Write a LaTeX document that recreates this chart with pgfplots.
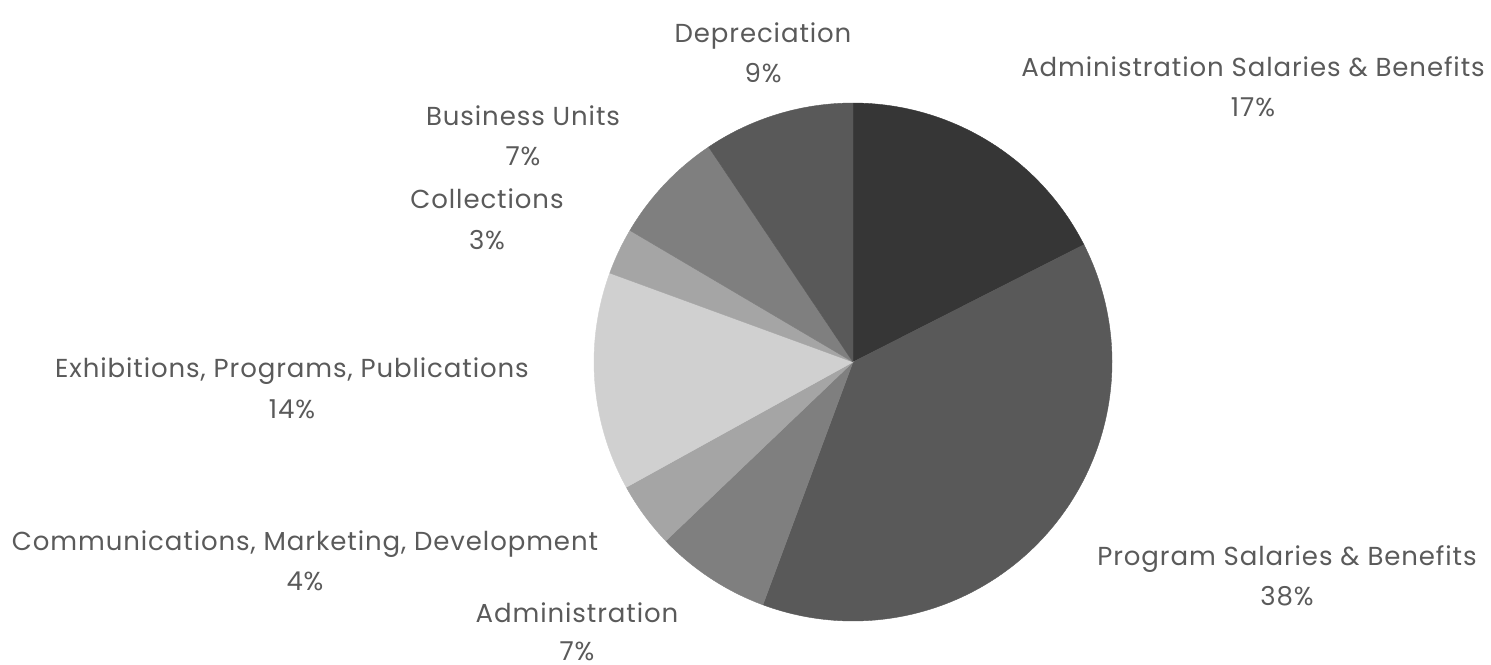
\documentclass[border=0pt]{standalone}
\usepackage{pgfplots}
\pgfplotsset{compat=1.18}
\usepackage{fontspec}
\setmainfont[LetterSpace=3.5]{Poppins}
\definecolor{c1}{RGB}{54,54,54}
\definecolor{c2}{RGB}{89,89,89}
\definecolor{c3}{RGB}{127,127,127}
\definecolor{c4}{RGB}{165,165,165}
\definecolor{c5}{RGB}{208,208,208}
\definecolor{txt}{RGB}{90,90,90}
\tikzset{lbl/.style={text=txt,font=\fontsize{13pt}{16pt}\selectfont,inner sep=0pt,anchor=base}}
% pie geometry in pixel units of the picture
\def\cx{853}\def\cy{362}\def\R{259}
% slice values (clockwise from top)
\def\vA{17.5}% Administration Salaries & Benefits
\def\vB{38.1}% Program Salaries & Benefits
\def\vC{7.2}%  Administration
\def\vD{4.1}%  Communications, Marketing, Development
\def\vE{13.6}% Exhibitions, Programs, Publications
\def\vF{2.9}%  Collections
\def\vG{7.1}%  Business Units
\def\vH{9.4}%  Depreciation
\pgfmathsetmacro\tot{\vA+\vB+\vC+\vD+\vE+\vF+\vG+\vH}
\pgfmathsetmacro\aA{90}
\pgfmathsetmacro\aB{\aA-360*\vA/\tot}
\pgfmathsetmacro\aC{\aB-360*\vB/\tot}
\pgfmathsetmacro\aD{\aC-360*\vC/\tot}
\pgfmathsetmacro\aE{\aD-360*\vD/\tot}
\pgfmathsetmacro\aF{\aE-360*\vE/\tot}
\pgfmathsetmacro\aG{\aF-360*\vF/\tot}
\pgfmathsetmacro\aH{\aG-360*\vG/\tot}
\pgfmathsetmacro\aI{\aH-360*\vH/\tot}
\begin{document}
\begin{tikzpicture}
\useasboundingbox (0,0) rectangle (745.5pt,332pt);
\begin{axis}[at={(0,0)},anchor=south west,scale only axis,
  width=745.5pt,height=332pt,xmin=0,xmax=1491,ymin=0,ymax=664,
  y dir=reverse,hide axis,clip=false]
\addplot[fill=c1,draw=c1,line width=0.2pt,domain=\aB:\aA,samples=80] ({\cx+\R*cos(x)},{\cy-\R*sin(x)}) -- (axis cs:\cx,\cy) -- cycle;
\addplot[fill=c2,draw=c2,line width=0.2pt,domain=\aC:\aB,samples=120] ({\cx+\R*cos(x)},{\cy-\R*sin(x)}) -- (axis cs:\cx,\cy) -- cycle;
\addplot[fill=c3,draw=c3,line width=0.2pt,domain=\aD:\aC,samples=40] ({\cx+\R*cos(x)},{\cy-\R*sin(x)}) -- (axis cs:\cx,\cy) -- cycle;
\addplot[fill=c4,draw=c4,line width=0.2pt,domain=\aE:\aD,samples=30] ({\cx+\R*cos(x)},{\cy-\R*sin(x)}) -- (axis cs:\cx,\cy) -- cycle;
\addplot[fill=c5,draw=c5,line width=0.2pt,domain=\aF:\aE,samples=60] ({\cx+\R*cos(x)},{\cy-\R*sin(x)}) -- (axis cs:\cx,\cy) -- cycle;
\addplot[fill=c4,draw=c4,line width=0.2pt,domain=\aG:\aF,samples=30] ({\cx+\R*cos(x)},{\cy-\R*sin(x)}) -- (axis cs:\cx,\cy) -- cycle;
\addplot[fill=c3,draw=c3,line width=0.2pt,domain=\aH:\aG,samples=40] ({\cx+\R*cos(x)},{\cy-\R*sin(x)}) -- (axis cs:\cx,\cy) -- cycle;
\addplot[fill=c2,draw=c2,line width=0.2pt,domain=\aI:\aH,samples=50] ({\cx+\R*cos(x)},{\cy-\R*sin(x)}) -- (axis cs:\cx,\cy) -- cycle;
% labels
\node[lbl] at (axis cs:763,42) {Depreciation};
\node[lbl] at (axis cs:763,82) {9\%};
\node[lbl] at (axis cs:1253,76) {Administration Salaries \& Benefits};
\node[lbl] at (axis cs:1253,116) {17\%};
\node[lbl] at (axis cs:523,125) {Business Units};
\node[lbl] at (axis cs:523,165) {7\%};
\node[lbl] at (axis cs:487,208) {Collections};
\node[lbl] at (axis cs:487,249) {3\%};
\node[lbl] at (axis cs:292,377) {Exhibitions, Programs, Publications};
\node[lbl] at (axis cs:292,418) {14\%};
\node[lbl] at (axis cs:305,550) {Communications, Marketing, Development};
\node[lbl] at (axis cs:305,590) {4\%};
\node[lbl] at (axis cs:577,622) {Administration};
\node[lbl,text depth=0pt] at (axis cs:577,660) {7\%};
\node[lbl] at (axis cs:1287,565) {Program Salaries \& Benefits};
\node[lbl] at (axis cs:1287,605) {38\%};
\end{axis}
\end{tikzpicture}
\end{document}
